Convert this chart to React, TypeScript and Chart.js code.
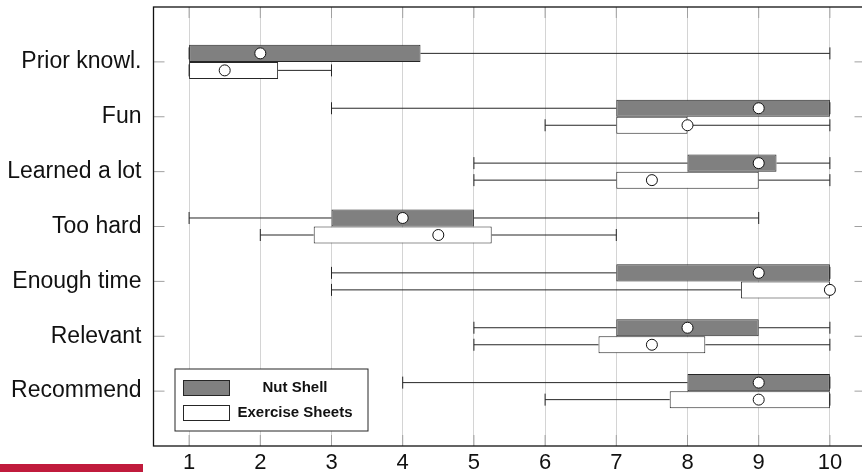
import React, { useEffect, useRef } from "react";
import { Chart, registerables } from "chart.js";

Chart.register(...registerables);

// ---- data ----
const categories = [
  "Prior knowl.",
  "Fun",
  "Learned a lot",
  "Too hard",
  "Enough time",
  "Relevant",
  "Recommend",
];
const xTicks = [1, 2, 3, 4, 5, 6, 7, 8, 9, 10];

const nutMin = [1, 3, 5, 1, 3, 5, 4];
const nutQ1 = [1, 7, 8, 3, 7, 7, 8];
const nutQ3 = [4.25, 10, 9.25, 5, 10, 9, 10];
const nutMax = [10, 10, 10, 9, 10, 10, 10];
const nutMean = [2, 9, 9, 4, 9, 8, 9];

const exMin = [1, 6, 5, 2, 3, 5, 6];
const exQ1 = [1, 7, 7, 2.75, 8.75, 6.75, 7.75];
const exQ3 = [2.25, 8, 9, 5.25, 10, 8.25, 10];
const exMax = [3, 10, 10, 7, 10, 10, 10];
const exMean = [1.5, 8, 7.5, 4.5, 10, 7.5, 9];

const series = [
  { label: "Nut Shell", fill: "#808080", min: nutMin, q1: nutQ1, q3: nutQ3, max: nutMax, mean: nutMean },
  { label: "Exercise Sheets", fill: "#ffffff", min: exMin, q1: exQ1, q3: exQ3, max: exMax, mean: exMean },
];

const LINE = "#262626";
const FONT = "'Liberation Sans', Arial, sans-serif";

const boxPlotPlugin = {
  id: "boxPlotExtras",
  beforeDatasetsDraw(chart: any) {
    const ctx = chart.ctx;
    const xs = chart.scales.x;
    series.forEach((s, di) => {
      const meta = chart.getDatasetMeta(di);
      meta.data.forEach((el: any, i: number) => {
        const y = el.y;
        const pMin = xs.getPixelForValue(s.min[i]);
        const pQ1 = xs.getPixelForValue(s.q1[i]);
        const pQ3 = xs.getPixelForValue(s.q3[i]);
        const pMax = xs.getPixelForValue(s.max[i]);
        ctx.save();
        ctx.strokeStyle = LINE;
        ctx.lineWidth = 1;
        ctx.beginPath();
        ctx.moveTo(pMin, y);
        ctx.lineTo(pQ1, y);
        ctx.moveTo(pQ3, y);
        ctx.lineTo(pMax, y);
        ctx.moveTo(pMin, y - 6);
        ctx.lineTo(pMin, y + 6);
        ctx.moveTo(pMax, y - 6);
        ctx.lineTo(pMax, y + 6);
        ctx.stroke();
        ctx.restore();
      });
    });
  },
  afterDatasetsDraw(chart: any) {
    const ctx = chart.ctx;
    const xs = chart.scales.x;
    series.forEach((s, di) => {
      const meta = chart.getDatasetMeta(di);
      meta.data.forEach((el: any, i: number) => {
        const px = xs.getPixelForValue(s.mean[i]);
        ctx.save();
        ctx.beginPath();
        ctx.arc(px, el.y, 5.5, 0, Math.PI * 2);
        ctx.fillStyle = "#ffffff";
        ctx.fill();
        ctx.strokeStyle = "#111";
        ctx.lineWidth = 1;
        ctx.stroke();
        ctx.restore();
      });
    });
  },
  afterDraw(chart: any) {
    const ctx = chart.ctx;
    const a = chart.chartArea;
    const xs = chart.scales.x;
    const ys = chart.scales.y;
    ctx.save();
    // inner tick marks
    ctx.strokeStyle = "#a0a0a0";
    ctx.lineWidth = 1;
    ctx.beginPath();
    xTicks.forEach((v) => {
      const px = xs.getPixelForValue(v);
      ctx.moveTo(px, a.top);
      ctx.lineTo(px, a.top + 11);
      ctx.moveTo(px, a.bottom);
      ctx.lineTo(px, a.bottom - 11);
    });
    categories.forEach((_, i) => {
      const py = ys.getPixelForValue(i + 1);
      ctx.moveTo(a.left, py);
      ctx.lineTo(a.left + 11, py);
      ctx.moveTo(a.right, py);
      ctx.lineTo(a.right - 11, py);
    });
    ctx.stroke();
    // frame
    ctx.strokeStyle = "#111";
    ctx.lineWidth = 1.3;
    ctx.strokeRect(a.left, a.top, a.right - a.left, a.bottom - a.top);

    // legend
    const bx = a.left + 21.5;
    const by = a.bottom - 77;
    const bw = 193;
    const bh = 62;
    ctx.fillStyle = "#ffffff";
    ctx.fillRect(bx, by, bw, bh);
    ctx.strokeStyle = LINE;
    ctx.lineWidth = 1;
    ctx.strokeRect(bx, by, bw, bh);
    chart.data.datasets.forEach((ds: any, i: number) => {
      const cy = by + 19 + i * 25;
      ctx.fillStyle = ds.backgroundColor;
      ctx.fillRect(bx + 8.5, cy - 7.5, 46, 15);
      ctx.strokeStyle = LINE;
      ctx.strokeRect(bx + 8.5, cy - 7.5, 46, 15);
      ctx.fillStyle = "#111";
      ctx.font = `bold 15px ${FONT}`;
      ctx.textAlign = "center";
      ctx.textBaseline = "middle";
      ctx.fillText(ds.label, bx + 120, cy);
    });
    ctx.restore();
  },
};

export default function App() {
  const ref = useRef<HTMLCanvasElement>(null);
  useEffect(() => {
    const canvas = ref.current;
    if (!canvas) return;
    const chart = new Chart(canvas, {
      type: "bar",
      data: {
        datasets: series.map((s) => ({
          label: s.label,
          data: categories.map((_, i) => ({ x: [s.q1[i], s.q3[i]], y: i + 1 })),
          backgroundColor: s.fill,
          borderColor: LINE,
          borderWidth: 1,
          borderSkipped: false,
          barPercentage: 1,
          categoryPercentage: 0.62,
        })) as any,
      },
      options: {
        indexAxis: "y",
        animation: false,
        responsive: false,
        devicePixelRatio: 1,
        events: [],
        layout: { padding: { top: 7, right: 14.5, left: 0, bottom: 0 } },
        plugins: { legend: { display: false }, tooltip: { enabled: false } },
        scales: {
          x: {
            type: "linear",
            min: 0.5,
            max: 10.5,
            offset: false,
            afterBuildTicks: (s: any) => {
              s.ticks = xTicks.map((v) => ({ value: v }));
            },
            afterFit: (s: any) => {
              s.height = 26;
              s.paddingLeft = 0;
              s.paddingRight = 0;
            },
            grid: { color: "#d4d4d4", lineWidth: 1, drawTicks: false, offset: false },
            border: { display: false },
            ticks: {
              padding: 4,
              color: "#111",
              autoSkip: false,
              maxRotation: 0,
              font: { size: 22, family: FONT },
              callback: (v: any) => String(v),
            },
          },
          y: {
            type: "linear",
            reverse: true,
            min: 0,
            max: 8,
            offset: false,
            afterBuildTicks: (s: any) => {
              s.ticks = categories.map((_, i) => ({ value: i + 1 }));
            },
            afterFit: (s: any) => {
              s.width = 153.5;
              s.paddingTop = 0;
              s.paddingBottom = 0;
            },
            grid: { display: false, drawTicks: false, offset: false },
            border: { display: false },
            ticks: {
              padding: 12,
              color: "#111",
              autoSkip: false,
              font: { size: 23, family: FONT },
              callback: (v: any) => categories[Math.round(Number(v)) - 1] ?? "",
            },
          },
        },
      } as any,
      plugins: [boxPlotPlugin],
    });
    return () => chart.destroy();
  }, []);

  return (
    <div
      style={{
        position: "fixed",
        left: 0,
        top: 0,
        width: 862,
        height: 472,
        overflow: "hidden",
        background: "#ffffff",
      }}
    >
      <canvas
        ref={ref}
        width={880}
        height={472}
        style={{ position: "absolute", left: 0, top: 0, width: 880, height: 472 }}
      />
      <div
        style={{
          position: "absolute",
          left: 0,
          top: 464,
          width: 143,
          height: 8,
          background: "#c01b3c",
        }}
      />
    </div>
  );
}
